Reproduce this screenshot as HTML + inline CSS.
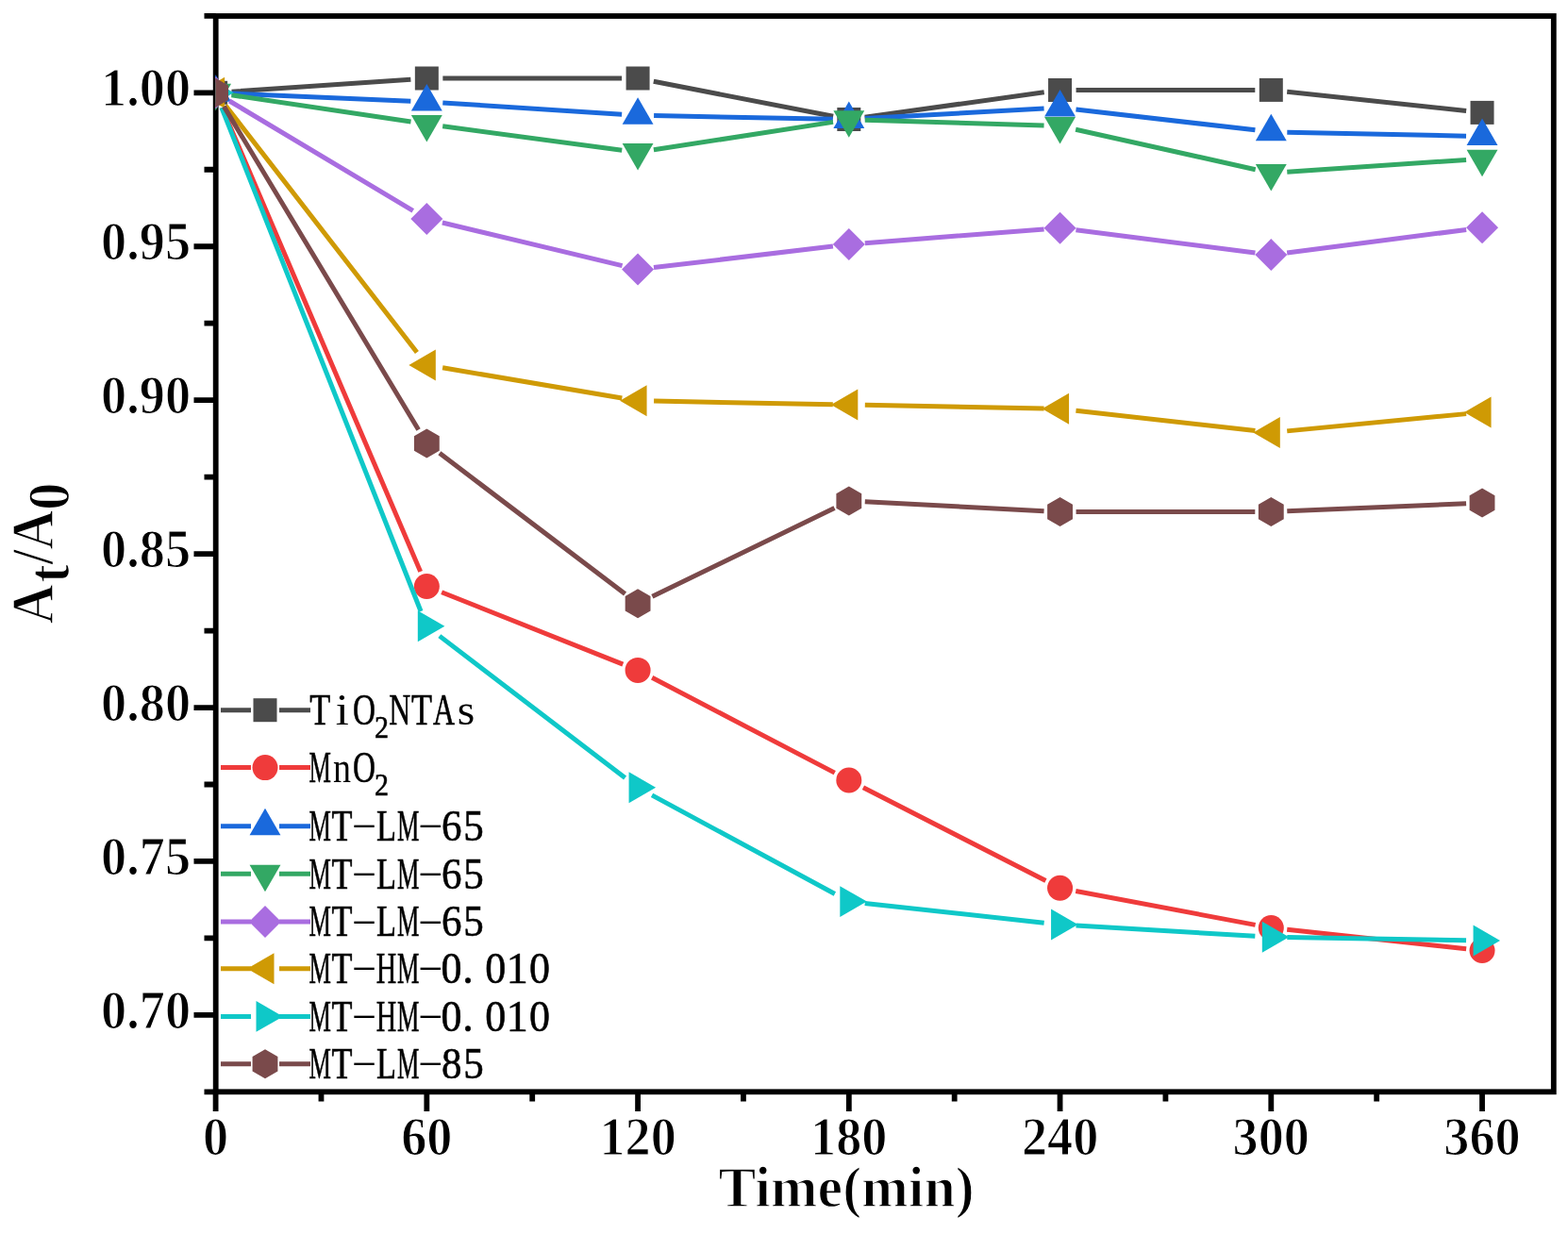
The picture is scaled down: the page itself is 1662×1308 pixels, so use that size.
<!DOCTYPE html><html><head><meta charset="utf-8"><style>html,body{margin:0;padding:0;background:#fff;}svg{display:block}.tk{font-family:"Liberation Serif",serif;font-weight:bold;font-size:56.5px;fill:#000;stroke:#fff;stroke-width:1.2px;paint-order:fill stroke}.ti{font-family:"Liberation Serif",serif;font-weight:bold;fill:#000;stroke:#fff;stroke-width:1.4px;paint-order:fill stroke}.lgl{font-family:"Liberation Serif",serif;font-size:46px;fill:#000;stroke:#000;stroke-width:0.6px}</style></head><body>
<svg width="1662" height="1308" viewBox="0 0 1662 1308">
<rect width="1662" height="1308" fill="#fff"/>
<rect x="228.7" y="17.0" width="1418.10" height="1140.30" fill="none" stroke="#000" stroke-width="5.8"/>
<path d="M205.5 98.30H228.7M205.5 261.24H228.7M205.5 424.17H228.7M205.5 587.11H228.7M205.5 750.04H228.7M205.5 912.97H228.7M205.5 1075.91H228.7M216.5 16.83H228.7M216.5 179.77H228.7M216.5 342.70H228.7M216.5 505.64H228.7M216.5 668.57H228.7M216.5 831.51H228.7M216.5 994.44H228.7M216.5 1157.38H228.7M228.60 1157.3V1178M452.34 1157.3V1178M676.08 1157.3V1178M899.82 1157.3V1178M1123.56 1157.3V1178M1347.30 1157.3V1178M1571.04 1157.3V1178M340.47 1157.3V1167.5M564.21 1157.3V1167.5M787.95 1157.3V1167.5M1011.69 1157.3V1167.5M1235.43 1157.3V1167.5M1459.17 1157.3V1167.5" stroke="#000" stroke-width="5.8" fill="none"/>
<defs><clipPath id="pc"><rect x="228.2" y="17.0" width="1418.60" height="1140.30"/></clipPath></defs><g clip-path="url(#pc)">
<path d="M245.56 97.14L435.38 84.16M469.34 83.00L659.08 83.00M692.77 86.24L883.13 123.26M916.66 124.17L1106.72 97.83M1140.56 95.49L1330.30 95.41M1364.20 97.21L1554.14 117.59" stroke="#4b4b4b" stroke-width="5.0" fill="none"/>
<rect x="216.10" y="85.80" width="25" height="25" fill="#4b4b4b"/>
<rect x="439.84" y="70.50" width="25" height="25" fill="#4b4b4b"/>
<rect x="663.58" y="70.50" width="25" height="25" fill="#4b4b4b"/>
<rect x="887.32" y="114.00" width="25" height="25" fill="#4b4b4b"/>
<rect x="1111.06" y="83.00" width="25" height="25" fill="#4b4b4b"/>
<rect x="1334.80" y="82.90" width="25" height="25" fill="#4b4b4b"/>
<rect x="1558.54" y="106.90" width="25" height="25" fill="#4b4b4b"/>
<path d="M235.28 113.93L445.66 605.87M468.14 627.78L660.28 704.12M691.16 718.26L884.74 819.14M914.96 834.73L1108.42 933.57M1140.27 944.45L1330.59 980.35M1364.20 985.31L1554.14 1005.69" stroke="#ef3b3b" stroke-width="5.0" fill="none"/>
<circle cx="228.60" cy="98.30" r="13.5" fill="#ef3b3b"/>
<circle cx="452.34" cy="621.50" r="13.5" fill="#ef3b3b"/>
<circle cx="676.08" cy="710.40" r="13.5" fill="#ef3b3b"/>
<circle cx="899.82" cy="827.00" r="13.5" fill="#ef3b3b"/>
<circle cx="1123.56" cy="941.30" r="13.5" fill="#ef3b3b"/>
<circle cx="1347.30" cy="983.50" r="13.5" fill="#ef3b3b"/>
<circle cx="1571.04" cy="1007.50" r="13.5" fill="#ef3b3b"/>
<path d="M245.58 99.03L435.36 107.17M469.30 108.99L659.12 121.21M693.08 122.62L882.82 126.18M916.79 125.55L1106.59 114.95M1140.45 115.95L1330.41 137.85M1364.30 140.16L1554.04 144.14" stroke="#1a69dc" stroke-width="5.0" fill="none"/>
<polygon points="228.60,79.30 245.05,107.80 212.15,107.80" fill="#1a69dc"/>
<polygon points="452.34,88.90 468.79,117.40 435.89,117.40" fill="#1a69dc"/>
<polygon points="676.08,103.30 692.53,131.80 659.63,131.80" fill="#1a69dc"/>
<polygon points="899.82,107.50 916.27,136.00 883.37,136.00" fill="#1a69dc"/>
<polygon points="1123.56,95.00 1140.01,123.50 1107.11,123.50" fill="#1a69dc"/>
<polygon points="1347.30,120.80 1363.75,149.30 1330.85,149.30" fill="#1a69dc"/>
<polygon points="1571.04,125.50 1587.49,154.00 1554.59,154.00" fill="#1a69dc"/>
<path d="M245.42 100.80L435.52 129.00M469.19 133.75L659.23 159.15M692.88 158.80L883.02 129.40M916.81 127.31L1106.57 132.99M1140.15 137.20L1330.71 179.70M1364.26 182.26L1554.08 169.44" stroke="#33a864" stroke-width="5.0" fill="none"/>
<polygon points="228.60,117.30 212.15,88.80 245.05,88.80" fill="#33a864"/>
<polygon points="452.34,150.50 435.89,122.00 468.79,122.00" fill="#33a864"/>
<polygon points="676.08,180.40 659.63,151.90 692.53,151.90" fill="#33a864"/>
<polygon points="899.82,145.80 883.37,117.30 916.27,117.30" fill="#33a864"/>
<polygon points="1123.56,152.50 1107.11,124.00 1140.01,124.00" fill="#33a864"/>
<polygon points="1347.30,202.40 1330.85,173.90 1363.75,173.90" fill="#33a864"/>
<polygon points="1571.04,187.30 1554.59,158.80 1587.49,158.80" fill="#33a864"/>
<path d="M243.19 107.02L437.75 223.28M468.87 235.96L659.55 281.64M692.96 283.59L882.94 261.01M916.77 257.69L1106.61 243.01M1140.42 243.84L1330.44 267.96M1364.16 267.93L1554.18 243.47" stroke="#a96de0" stroke-width="5.0" fill="none"/>
<polygon points="228.60,81.30 245.60,98.30 228.60,115.30 211.60,98.30" fill="#a96de0"/>
<polygon points="452.34,215.00 469.34,232.00 452.34,249.00 435.34,232.00" fill="#a96de0"/>
<polygon points="676.08,268.60 693.08,285.60 676.08,302.60 659.08,285.60" fill="#a96de0"/>
<polygon points="899.82,242.00 916.82,259.00 899.82,276.00 882.82,259.00" fill="#a96de0"/>
<polygon points="1123.56,224.70 1140.56,241.70 1123.56,258.70 1106.56,241.70" fill="#a96de0"/>
<polygon points="1347.30,253.10 1364.30,270.10 1347.30,287.10 1330.30,270.10" fill="#a96de0"/>
<polygon points="1571.04,224.30 1588.04,241.30 1571.04,258.30 1554.04,241.30" fill="#a96de0"/>
<path d="M239.01 111.74L441.93 373.56M469.10 389.83L659.32 421.97M693.08 425.12L882.82 428.68M916.82 429.33L1106.56 432.97M1140.45 435.20L1330.41 456.60M1364.22 456.87L1554.12 438.63" stroke="#cf9a04" stroke-width="5.0" fill="none"/>
<polygon points="209.60,98.30 238.10,81.85 238.10,114.75" fill="#cf9a04"/>
<polygon points="433.34,387.00 461.84,370.55 461.84,403.45" fill="#cf9a04"/>
<polygon points="657.08,424.80 685.58,408.35 685.58,441.25" fill="#cf9a04"/>
<polygon points="880.82,429.00 909.32,412.55 909.32,445.45" fill="#cf9a04"/>
<polygon points="1104.56,433.30 1133.06,416.85 1133.06,449.75" fill="#cf9a04"/>
<polygon points="1328.30,458.50 1356.80,442.05 1356.80,474.95" fill="#cf9a04"/>
<polygon points="1552.04,437.00 1580.54,420.55 1580.54,453.45" fill="#cf9a04"/>
<path d="M234.85 114.11L446.09 647.99M465.85 674.12L662.57 824.48M691.04 842.88L884.86 947.52M916.72 957.44L1106.66 978.16M1140.53 981.00L1330.33 992.20M1364.30 993.49L1554.04 996.71" stroke="#0fc8c8" stroke-width="5.0" fill="none"/>
<polygon points="247.60,98.30 219.10,114.75 219.10,81.85" fill="#0fc8c8"/>
<polygon points="471.34,663.80 442.84,680.25 442.84,647.35" fill="#0fc8c8"/>
<polygon points="695.08,834.80 666.58,851.25 666.58,818.35" fill="#0fc8c8"/>
<polygon points="918.82,955.60 890.32,972.05 890.32,939.15" fill="#0fc8c8"/>
<polygon points="1142.56,980.00 1114.06,996.45 1114.06,963.55" fill="#0fc8c8"/>
<polygon points="1366.30,993.20 1337.80,1009.65 1337.80,976.75" fill="#0fc8c8"/>
<polygon points="1590.04,997.00 1561.54,1013.45 1561.54,980.55" fill="#0fc8c8"/>
<path d="M237.37 112.86L443.57 455.44M465.88 480.28L662.54 629.52M691.37 632.37L884.53 538.43M916.80 531.87L1106.58 541.63M1140.56 542.51L1330.30 542.59M1364.28 541.87L1554.06 533.73" stroke="#7a4a4b" stroke-width="5.0" fill="none"/>
<polygon points="228.60,82.80 242.02,90.55 242.02,106.05 228.60,113.80 215.18,106.05 215.18,90.55" fill="#7a4a4b"/>
<polygon points="452.34,454.50 465.76,462.25 465.76,477.75 452.34,485.50 438.92,477.75 438.92,462.25" fill="#7a4a4b"/>
<polygon points="676.08,624.30 689.50,632.05 689.50,647.55 676.08,655.30 662.66,647.55 662.66,632.05" fill="#7a4a4b"/>
<polygon points="899.82,515.50 913.24,523.25 913.24,538.75 899.82,546.50 886.40,538.75 886.40,523.25" fill="#7a4a4b"/>
<polygon points="1123.56,527.00 1136.98,534.75 1136.98,550.25 1123.56,558.00 1110.14,550.25 1110.14,534.75" fill="#7a4a4b"/>
<polygon points="1347.30,527.10 1360.72,534.85 1360.72,550.35 1347.30,558.10 1333.88,550.35 1333.88,534.85" fill="#7a4a4b"/>
<polygon points="1571.04,517.50 1584.46,525.25 1584.46,540.75 1571.04,548.50 1557.62,540.75 1557.62,525.25" fill="#7a4a4b"/>
</g>
<text class="tk" transform="translate(202,112.1) scale(0.96,1)" text-anchor="end">1.00</text>
<text class="tk" transform="translate(202,275.0) scale(0.96,1)" text-anchor="end">0.95</text>
<text class="tk" transform="translate(202,438.0) scale(0.96,1)" text-anchor="end">0.90</text>
<text class="tk" transform="translate(202,600.9) scale(0.96,1)" text-anchor="end">0.85</text>
<text class="tk" transform="translate(202,763.8) scale(0.96,1)" text-anchor="end">0.80</text>
<text class="tk" transform="translate(202,926.8) scale(0.96,1)" text-anchor="end">0.75</text>
<text class="tk" transform="translate(202,1089.7) scale(0.96,1)" text-anchor="end">0.70</text>
<text class="tk" transform="translate(228.6,1224.2) scale(0.96,1)" text-anchor="middle">0</text>
<text class="tk" transform="translate(452.3,1224.2) scale(0.96,1)" text-anchor="middle">60</text>
<text class="tk" transform="translate(676.1,1224.2) scale(0.96,1)" text-anchor="middle">120</text>
<text class="tk" transform="translate(899.8,1224.2) scale(0.96,1)" text-anchor="middle">180</text>
<text class="tk" transform="translate(1123.6,1224.2) scale(0.96,1)" text-anchor="middle">240</text>
<text class="tk" transform="translate(1347.3,1224.2) scale(0.96,1)" text-anchor="middle">300</text>
<text class="tk" transform="translate(1571.0,1224.2) scale(0.96,1)" text-anchor="middle">360</text>
<text class="ti" transform="translate(897,1279.2) scale(0.972,1)" text-anchor="middle" style="font-size:61.5px">Time(min)</text>
<text class="ti" transform="translate(56,662) rotate(-90) scale(0.925,1)" style="font-size:63px"><tspan x="0.65" y="0">A</tspan><tspan x="47.78" y="17">t</tspan><tspan x="68.57" y="0">/</tspan><tspan x="85.73" y="0">A</tspan><tspan x="130.97" y="17">0</tspan></text>
<path d="M234 752.7H266.0M296.0 752.7H329" stroke="#4b4b4b" stroke-width="5.0" fill="none"/>
<rect x="268.50" y="740.20" width="25" height="25" fill="#4b4b4b"/>
<text class="lgl"><tspan x="328.20" y="767.90" textLength="22" lengthAdjust="spacingAndGlyphs">T</tspan><tspan x="355.70" y="767.90" stroke-width="0" textLength="14" lengthAdjust="spacingAndGlyphs">i</tspan><tspan x="374.00" y="767.90" textLength="24" lengthAdjust="spacingAndGlyphs">O</tspan><tspan x="396.90" y="781.70" font-size="33.5" textLength="15" lengthAdjust="spacingAndGlyphs">2</tspan><tspan x="412.20" y="767.90" textLength="23" lengthAdjust="spacingAndGlyphs">N</tspan><tspan x="436.10" y="767.90" textLength="22" lengthAdjust="spacingAndGlyphs">T</tspan><tspan x="459.00" y="767.90" textLength="23" lengthAdjust="spacingAndGlyphs">A</tspan><tspan x="484.70" y="767.90" stroke-width="0" textLength="18.5" lengthAdjust="spacingAndGlyphs">s</tspan></text>
<path d="M234 813.6H266.0M296.0 813.6H329" stroke="#ef3b3b" stroke-width="5.0" fill="none"/>
<circle cx="281.00" cy="813.60" r="13.5" fill="#ef3b3b"/>
<text class="lgl"><tspan x="327.50" y="828.80" textLength="23.4" lengthAdjust="spacingAndGlyphs">M</tspan><tspan x="353.10" y="828.80" stroke-width="0" textLength="19" lengthAdjust="spacingAndGlyphs">n</tspan><tspan x="374.00" y="828.80" textLength="24" lengthAdjust="spacingAndGlyphs">O</tspan><tspan x="396.90" y="842.60" font-size="33.5" textLength="15" lengthAdjust="spacingAndGlyphs">2</tspan></text>
<path d="M234 875.7H266.0M296.0 875.7H329" stroke="#1a69dc" stroke-width="5.0" fill="none"/>
<polygon points="281.00,856.70 297.45,885.20 264.55,885.20" fill="#1a69dc"/>
<text class="lgl"><tspan x="327.50" y="890.90" textLength="23.4" lengthAdjust="spacingAndGlyphs">M</tspan><tspan x="351.60" y="890.90" textLength="22" lengthAdjust="spacingAndGlyphs">T</tspan><tspan x="372.20" y="883.30" font-size="32" stroke-width="0" textLength="27.5" lengthAdjust="spacingAndGlyphs">-</tspan><tspan x="398.90" y="890.90" textLength="21" lengthAdjust="spacingAndGlyphs">L</tspan><tspan x="421.10" y="890.90" textLength="23.4" lengthAdjust="spacingAndGlyphs">M</tspan><tspan x="442.40" y="883.30" font-size="32" stroke-width="0" textLength="27.5" lengthAdjust="spacingAndGlyphs">-</tspan><tspan x="467.90" y="890.90" textLength="21.5" lengthAdjust="spacingAndGlyphs">6</tspan><tspan x="491.30" y="890.90" textLength="21.5" lengthAdjust="spacingAndGlyphs">5</tspan></text>
<path d="M234 926.3H266.0M296.0 926.3H329" stroke="#33a864" stroke-width="5.0" fill="none"/>
<polygon points="281.00,945.30 264.55,916.80 297.45,916.80" fill="#33a864"/>
<text class="lgl"><tspan x="327.50" y="941.50" textLength="23.4" lengthAdjust="spacingAndGlyphs">M</tspan><tspan x="351.60" y="941.50" textLength="22" lengthAdjust="spacingAndGlyphs">T</tspan><tspan x="372.20" y="933.90" font-size="32" stroke-width="0" textLength="27.5" lengthAdjust="spacingAndGlyphs">-</tspan><tspan x="398.90" y="941.50" textLength="21" lengthAdjust="spacingAndGlyphs">L</tspan><tspan x="421.10" y="941.50" textLength="23.4" lengthAdjust="spacingAndGlyphs">M</tspan><tspan x="442.40" y="933.90" font-size="32" stroke-width="0" textLength="27.5" lengthAdjust="spacingAndGlyphs">-</tspan><tspan x="467.90" y="941.50" textLength="21.5" lengthAdjust="spacingAndGlyphs">6</tspan><tspan x="491.30" y="941.50" textLength="21.5" lengthAdjust="spacingAndGlyphs">5</tspan></text>
<path d="M234 977.0H266.0M296.0 977.0H329" stroke="#a96de0" stroke-width="5.0" fill="none"/>
<polygon points="281.00,960.00 298.00,977.00 281.00,994.00 264.00,977.00" fill="#a96de0"/>
<text class="lgl"><tspan x="327.50" y="992.20" textLength="23.4" lengthAdjust="spacingAndGlyphs">M</tspan><tspan x="351.60" y="992.20" textLength="22" lengthAdjust="spacingAndGlyphs">T</tspan><tspan x="372.20" y="984.60" font-size="32" stroke-width="0" textLength="27.5" lengthAdjust="spacingAndGlyphs">-</tspan><tspan x="398.90" y="992.20" textLength="21" lengthAdjust="spacingAndGlyphs">L</tspan><tspan x="421.10" y="992.20" textLength="23.4" lengthAdjust="spacingAndGlyphs">M</tspan><tspan x="442.40" y="984.60" font-size="32" stroke-width="0" textLength="27.5" lengthAdjust="spacingAndGlyphs">-</tspan><tspan x="467.90" y="992.20" textLength="21.5" lengthAdjust="spacingAndGlyphs">6</tspan><tspan x="491.30" y="992.20" textLength="21.5" lengthAdjust="spacingAndGlyphs">5</tspan></text>
<path d="M234 1026.7H266.0M296.0 1026.7H329" stroke="#cf9a04" stroke-width="5.0" fill="none"/>
<polygon points="262.00,1026.70 290.50,1010.25 290.50,1043.15" fill="#cf9a04"/>
<text class="lgl"><tspan x="327.50" y="1041.90" textLength="23.4" lengthAdjust="spacingAndGlyphs">M</tspan><tspan x="351.60" y="1041.90" textLength="22" lengthAdjust="spacingAndGlyphs">T</tspan><tspan x="372.20" y="1034.30" font-size="32" stroke-width="0" textLength="27.5" lengthAdjust="spacingAndGlyphs">-</tspan><tspan x="398.70" y="1041.90" textLength="21.5" lengthAdjust="spacingAndGlyphs">H</tspan><tspan x="421.10" y="1041.90" textLength="23.4" lengthAdjust="spacingAndGlyphs">M</tspan><tspan x="442.40" y="1034.30" font-size="32" stroke-width="0" textLength="27.5" lengthAdjust="spacingAndGlyphs">-</tspan><tspan x="467.40" y="1041.90" textLength="22" lengthAdjust="spacingAndGlyphs">0</tspan><tspan x="490.30" y="1041.90" textLength="11.5" lengthAdjust="spacingAndGlyphs">.</tspan><tspan x="514.20" y="1041.90" textLength="22" lengthAdjust="spacingAndGlyphs">0</tspan><tspan x="536.80" y="1041.90" textLength="23" lengthAdjust="spacingAndGlyphs">1</tspan><tspan x="561.00" y="1041.90" textLength="22" lengthAdjust="spacingAndGlyphs">0</tspan></text>
<path d="M234 1077.4H266.0M296.0 1077.4H329" stroke="#0fc8c8" stroke-width="5.0" fill="none"/>
<polygon points="300.00,1077.40 271.50,1093.85 271.50,1060.95" fill="#0fc8c8"/>
<text class="lgl"><tspan x="327.50" y="1092.60" textLength="23.4" lengthAdjust="spacingAndGlyphs">M</tspan><tspan x="351.60" y="1092.60" textLength="22" lengthAdjust="spacingAndGlyphs">T</tspan><tspan x="372.20" y="1085.00" font-size="32" stroke-width="0" textLength="27.5" lengthAdjust="spacingAndGlyphs">-</tspan><tspan x="398.70" y="1092.60" textLength="21.5" lengthAdjust="spacingAndGlyphs">H</tspan><tspan x="421.10" y="1092.60" textLength="23.4" lengthAdjust="spacingAndGlyphs">M</tspan><tspan x="442.40" y="1085.00" font-size="32" stroke-width="0" textLength="27.5" lengthAdjust="spacingAndGlyphs">-</tspan><tspan x="467.40" y="1092.60" textLength="22" lengthAdjust="spacingAndGlyphs">0</tspan><tspan x="490.30" y="1092.60" textLength="11.5" lengthAdjust="spacingAndGlyphs">.</tspan><tspan x="514.20" y="1092.60" textLength="22" lengthAdjust="spacingAndGlyphs">0</tspan><tspan x="536.80" y="1092.60" textLength="23" lengthAdjust="spacingAndGlyphs">1</tspan><tspan x="561.00" y="1092.60" textLength="22" lengthAdjust="spacingAndGlyphs">0</tspan></text>
<path d="M234 1127.7H266.0M296.0 1127.7H329" stroke="#7a4a4b" stroke-width="5.0" fill="none"/>
<polygon points="281.00,1112.20 294.42,1119.95 294.42,1135.45 281.00,1143.20 267.58,1135.45 267.58,1119.95" fill="#7a4a4b"/>
<text class="lgl"><tspan x="327.50" y="1142.90" textLength="23.4" lengthAdjust="spacingAndGlyphs">M</tspan><tspan x="351.60" y="1142.90" textLength="22" lengthAdjust="spacingAndGlyphs">T</tspan><tspan x="372.20" y="1135.30" font-size="32" stroke-width="0" textLength="27.5" lengthAdjust="spacingAndGlyphs">-</tspan><tspan x="398.90" y="1142.90" textLength="21" lengthAdjust="spacingAndGlyphs">L</tspan><tspan x="421.10" y="1142.90" textLength="23.4" lengthAdjust="spacingAndGlyphs">M</tspan><tspan x="442.40" y="1135.30" font-size="32" stroke-width="0" textLength="27.5" lengthAdjust="spacingAndGlyphs">-</tspan><tspan x="467.90" y="1142.90" textLength="21.5" lengthAdjust="spacingAndGlyphs">8</tspan><tspan x="491.30" y="1142.90" textLength="21.5" lengthAdjust="spacingAndGlyphs">5</tspan></text>
</svg></body></html>
